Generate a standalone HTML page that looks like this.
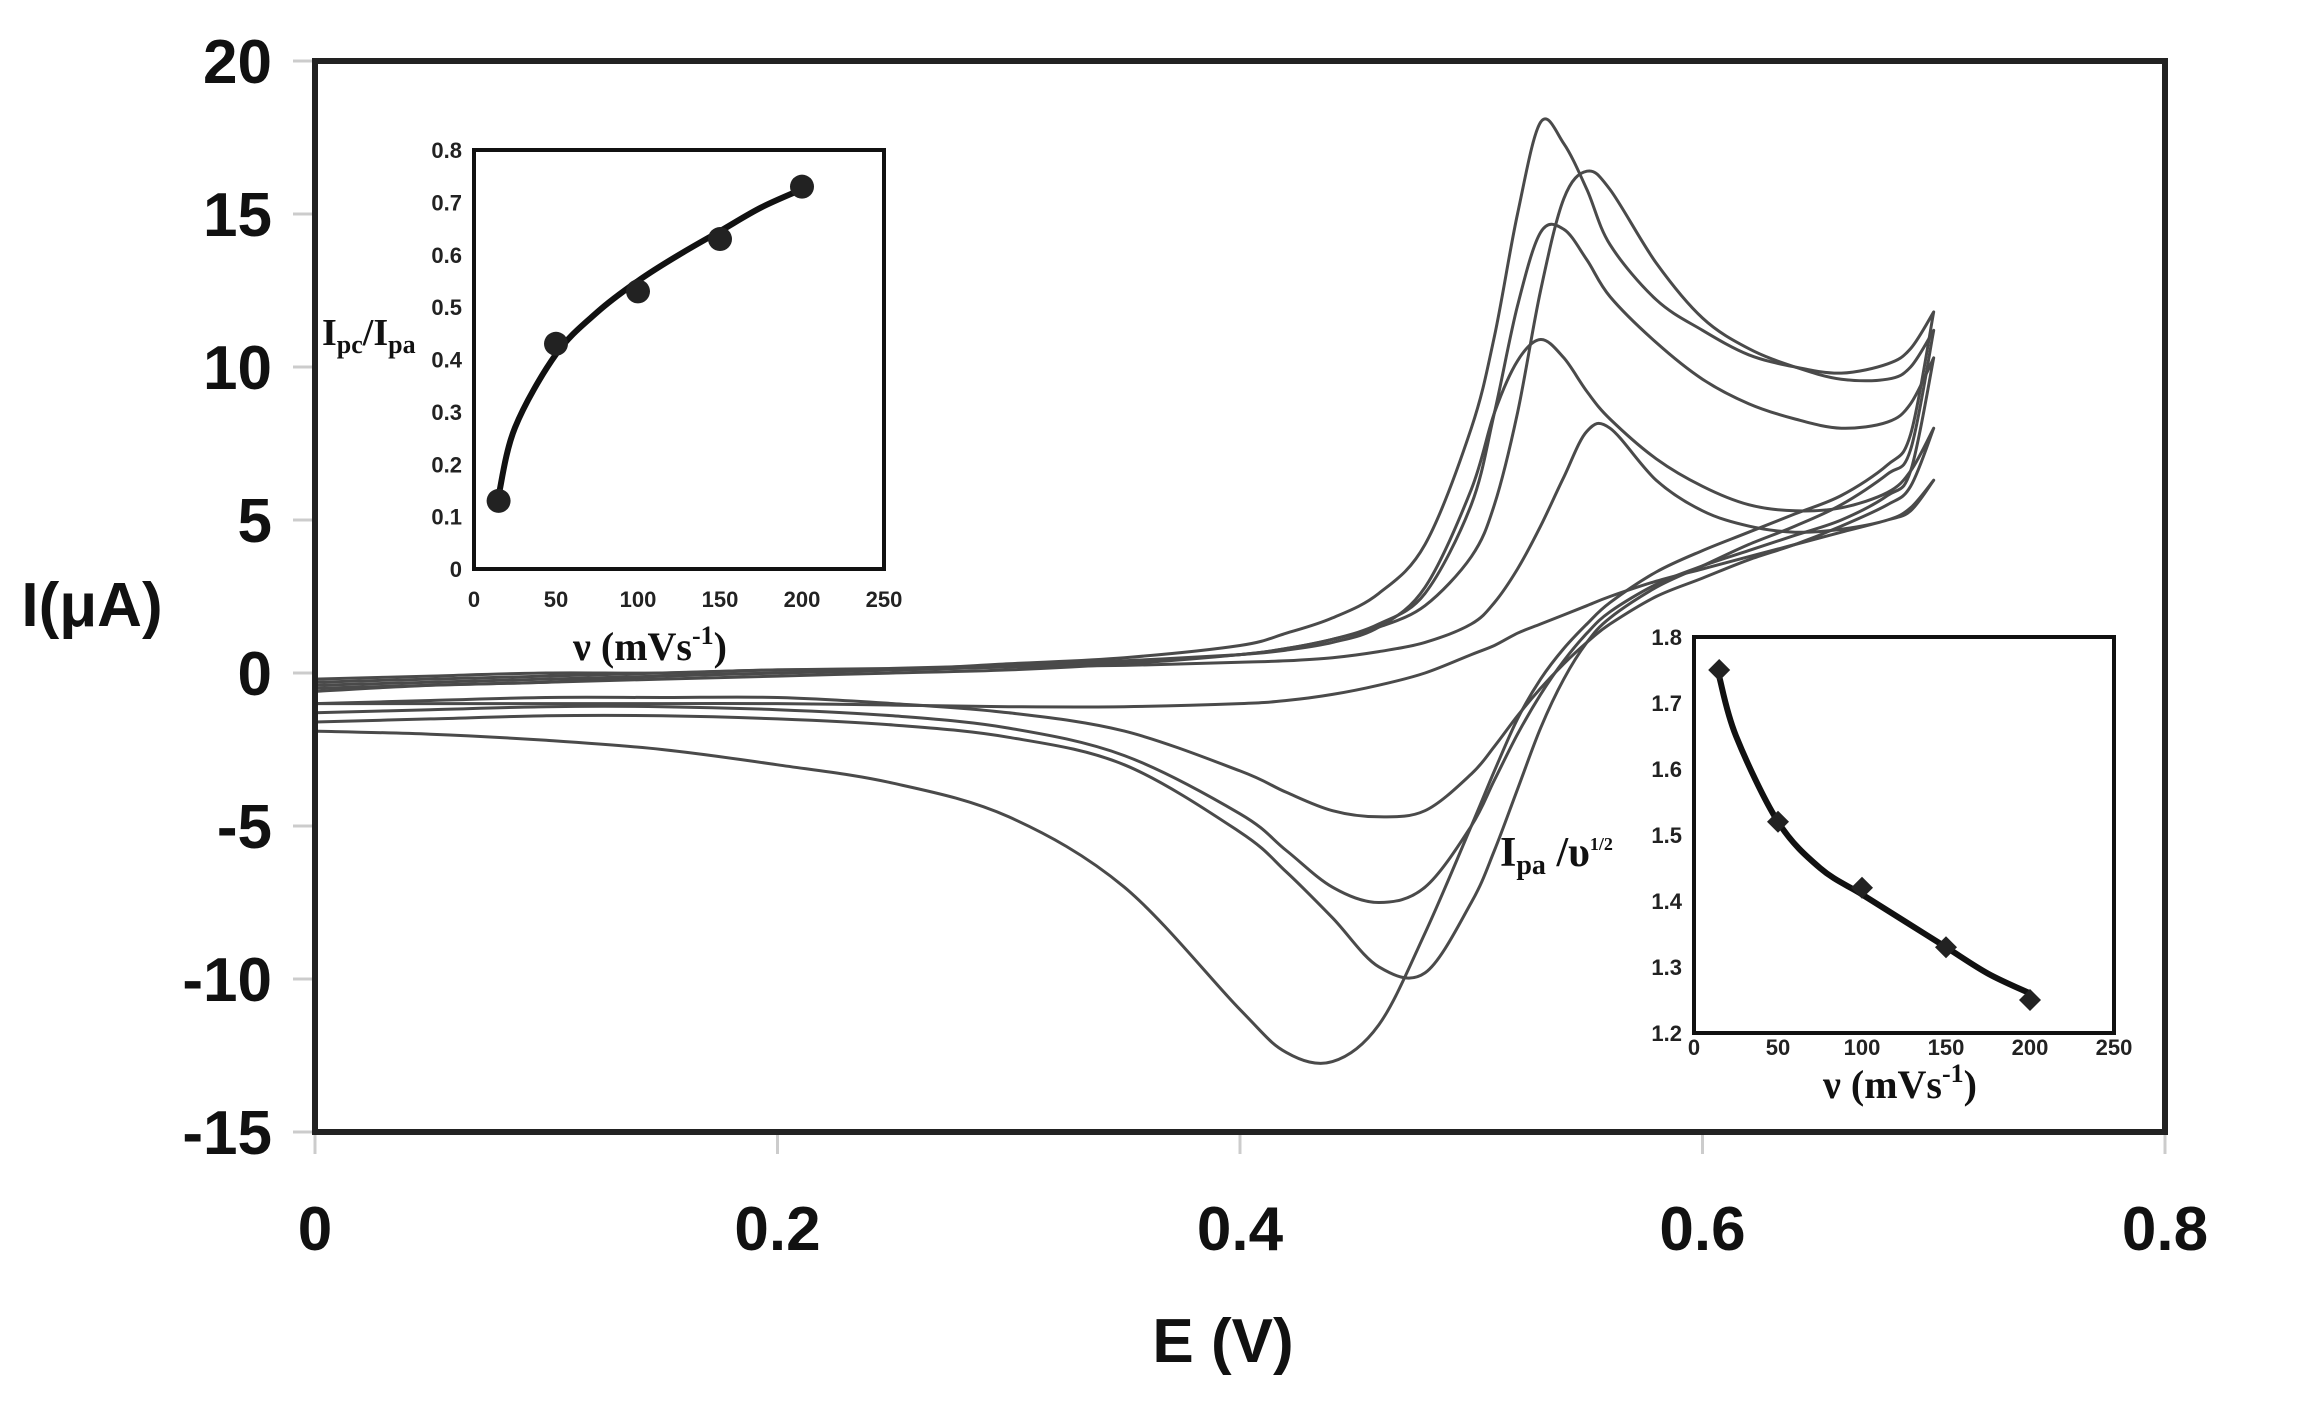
<!DOCTYPE html>
<html><head><meta charset="utf-8"><style>
html,body{margin:0;padding:0;background:#fff;}
svg{display:block;}
.tk{font-family:"Liberation Sans",Arial,sans-serif;font-weight:bold;font-size:62px;fill:#111;}
.itk{font-family:"Liberation Sans",Arial,sans-serif;font-weight:bold;font-size:22px;fill:#222;}
.ser{font-family:"Liberation Serif","Times New Roman",serif;font-weight:bold;fill:#111;}
</style></head><body>
<svg id="chart" width="2316" height="1420" viewBox="0 0 2316 1420" xmlns="http://www.w3.org/2000/svg">
<rect x="0" y="0" width="2316" height="1420" fill="#fff"/>
<g id="main"></g>
<g id="inset1"></g>
<g id="inset2"></g>
</svg>
<script>
// ---- main CV data ----
const eGrid = [0,0.05,0.1,0.15,0.2,0.25,0.3,0.35,0.4,0.42,0.44,0.46,0.48,0.5,0.51,0.52,0.53,0.54,0.55,0.56,0.58,0.6,0.62,0.64,0.66,0.68,0.69,0.7];
const fwdA = [-0.6,-0.4,-0.3,-0.1,0,0.1,0.3,0.5,0.9,1.3,1.8,2.6,4.2,8,11,15,18,17.3,15.8,14,12.2,11.2,10.4,10,9.8,10.1,10.6,11.8];
const revA = [-1.9,-2.0,-2.2,-2.5,-3.0,-3.6,-4.7,-7.0,-11.0,-12.4,-12.7,-11.5,-8.5,-5.0,-3.2,-1.5,-0.2,0.8,1.6,2.3,3.3,4.0,4.6,5.2,5.8,6.8,7.8,11.8];
const fwdB = [-0.5,-0.4,-0.3,-0.2,-0.1,0,0.1,0.3,0.6,0.8,1.1,1.5,2.2,3.8,5.5,8.5,12.5,15.5,16.4,15.8,13.4,11.6,10.6,10.0,9.6,9.6,10.0,11.2];
const revB = [-1.6,-1.5,-1.4,-1.4,-1.5,-1.7,-2.1,-3.0,-5.2,-6.5,-8.0,-9.6,-9.8,-7.5,-5.8,-3.8,-1.8,-0.2,1.0,1.8,2.8,3.5,4.2,4.8,5.5,6.5,7.3,11.2];
const fwdC = [-0.4,-0.3,-0.2,-0.1,0,0.1,0.2,0.35,0.6,0.8,1.1,1.6,2.6,5.5,8.5,12,14.4,14.5,13.5,12.3,10.8,9.6,8.8,8.3,8.0,8.2,8.8,10.3];
const revC = [-1.3,-1.2,-1.1,-1.1,-1.2,-1.4,-1.8,-2.7,-4.6,-5.8,-7.0,-7.5,-7.0,-5.0,-3.5,-2.0,-0.7,0.4,1.3,2.0,2.9,3.5,4.0,4.5,5.0,5.8,6.6,10.3];
const fwdD = [-0.3,-0.2,-0.1,0,0.1,0.15,0.25,0.4,0.6,0.75,1.0,1.5,2.8,6,8.5,10.2,10.9,10.3,9.2,8.3,7.0,6.1,5.5,5.3,5.4,5.9,6.6,8.0];
const revD = [-1.0,-0.9,-0.8,-0.8,-0.8,-1.0,-1.3,-1.9,-3.2,-3.9,-4.5,-4.7,-4.5,-3.3,-2.4,-1.4,-0.5,0.3,1.0,1.6,2.5,3.1,3.7,4.2,4.8,5.5,6.1,8.0];
const fwdE = [-0.2,-0.1,0,0,0.1,0.1,0.2,0.25,0.35,0.4,0.5,0.7,1.0,1.6,2.3,3.4,4.8,6.4,7.9,8.0,6.3,5.3,4.8,4.6,4.7,5.0,5.4,6.3];
const revE = [-1.0,-1.0,-1.0,-1.0,-1.0,-1.05,-1.1,-1.1,-1.0,-0.9,-0.7,-0.4,0,0.6,0.9,1.3,1.6,1.9,2.2,2.5,3.0,3.4,3.8,4.2,4.6,5.0,5.3,6.3];
const xTicks = ["0","0.2","0.4","0.6","0.8"];
const xTickVals = [0,0.2,0.4,0.6,0.8];
const yTickVals = [20,15,10,5,0,-5,-10,-15];
// ---- inset 1 data ----
const rateVals = [15,50,100,150,200];
const ratioVals = [0.13,0.43,0.53,0.63,0.73];
const fitRates = [15,25,50,75,100,125,150,175,200];
const ratioFit = [0.14,0.27,0.41,0.49,0.55,0.60,0.645,0.69,0.725];
const in1YTicks = [0,0.1,0.2,0.3,0.4,0.5,0.6,0.7,0.8];
const inXTicks = [0,50,100,150,200,250];
// ---- inset 2 data ----
const normVals = [1.75,1.52,1.42,1.33,1.25];
const normFit = [1.74,1.65,1.52,1.45,1.41,1.37,1.33,1.29,1.26];
const in2YTicks = [1.2,1.3,1.4,1.5,1.6,1.7,1.8];

const NS="http://www.w3.org/2000/svg";
function mk(parent,tag,attrs,text){const e=document.createElementNS(NS,tag);for(const k in attrs)e.setAttribute(k,attrs[k]);if(text!==undefined)e.textContent=text;parent.appendChild(e);return e;}
function smooth(pts){let d="M"+pts[0][0].toFixed(1)+","+pts[0][1].toFixed(1);for(let i=0;i<pts.length-1;i++){const p0=pts[Math.max(0,i-1)],p1=pts[i],p2=pts[i+1],p3=pts[Math.min(pts.length-1,i+2)];const c1x=p1[0]+(p2[0]-p0[0])/6,c1y=p1[1]+(p2[1]-p0[1])/6,c2x=p2[0]-(p3[0]-p1[0])/6,c2y=p2[1]-(p3[1]-p1[1])/6;d+="C"+c1x.toFixed(1)+","+c1y.toFixed(1)+" "+c2x.toFixed(1)+","+c2y.toFixed(1)+" "+p2[0].toFixed(1)+","+p2[1].toFixed(1);}return d;}

// main axes
const L=315,R=2165,T=61,B=1132;
const xs=v=>L+(v-0)/0.8*(R-L);
const ys=v=>T+(20-v)/35*(B-T);
const main=document.getElementById('main');
yTickVals.forEach(v=>{
  const t=mk(main,'line',{x1:L-22,x2:L,y1:ys(v),y2:ys(v),stroke:'#ccc','stroke-width':3});
  
  
  const lb=mk(main,'text',{x:272,y:ys(v)+22,'text-anchor':'end',class:'tk'},String(v));
  
  
});
xTickVals.forEach((v,i)=>{
  const t=mk(main,'line',{x1:xs(v),x2:xs(v),y1:B,y2:B+22,stroke:'#ccc','stroke-width':3});
  
  
  const lb=mk(main,'text',{x:xs(v),y:1250,'text-anchor':'middle',class:'tk'},xTicks[i]);
  
  
});
const series=[[fwdA,revA],[fwdB,revB],[fwdC,revC],[fwdD,revD],[fwdE,revE]];
const names=['cv-curve-200','cv-curve-150','cv-curve-100','cv-curve-50','cv-curve-15'];
series.forEach((s,k)=>{
  const pts=eGrid.map((e,i)=>[xs(e),ys(s[0][i])]);
  const rpts=[];for(let i=eGrid.length-1;i>=0;i--)rpts.push([xs(eGrid[i]),ys(s[1][i])]);
  const p=mk(main,'path',{d:smooth(pts)+" "+smooth(rpts).replace(/^M/,'L'),fill:'none',stroke:'#4a4a4a','stroke-width':3,'stroke-linejoin':'round'});
  
  
});
const frame=mk(main,'rect',{x:L,y:T,width:R-L,height:B-T,fill:'none',stroke:'#222','stroke-width':6});


const xt=mk(main,'text',{x:1223,y:1362,'text-anchor':'middle',class:'tk'},'E (V)');


const yt=mk(main,'text',{x:92,y:626,'text-anchor':'middle',class:'tk'},'I(μA)');



// inset builder
function inset(g,box,ymin,ymax,yticks,ydec,vals,fit,marker,xoff){
  const ix=v=>box.l+v/250*(box.r-box.l);
  const iy=v=>box.b-(v-ymin)/(ymax-ymin)*(box.b-box.t);
  const bg=mk(g,'rect',{x:box.l,y:box.t,width:box.r-box.l,height:box.b-box.t,fill:'#fff',stroke:'#111','stroke-width':4});
  
  
  yticks.forEach(v=>{
    const lb=mk(g,'text',{x:box.l-12,y:iy(v)+8,'text-anchor':'end',class:'itk'},(ydec&&v!==0)?v.toFixed(1):String(v));
    
    
  });
  inXTicks.forEach(v=>{
    const lb=mk(g,'text',{x:ix(v),y:box.b+xoff,'text-anchor':'middle',class:'itk'},String(v));
    
    
  });
  const fp=mk(g,'path',{d:smooth(fitRates.map((r,i)=>[ix(r),iy(fit[i])])),fill:'none',stroke:'#111','stroke-width':6});
  
  
  rateVals.forEach((r,i)=>{
    const cx=ix(r),cy=iy(vals[i]);
    let m;
    if(marker==='circle') m=mk(g,'circle',{cx:cx,cy:cy,r:12,fill:'#222'});
    else m=mk(g,'polygon',{points:`${cx},${cy-11} ${cx+11},${cy} ${cx},${cy+11} ${cx-11},${cy}`,fill:'#222'});
    
    
  });
}
const g1=document.getElementById('inset1');
inset(g1,{l:474,t:150,r:884,b:569},0,0.8,in1YTicks,true,ratioVals,ratioFit,'circle',38);
const l1=mk(g1,'text',{x:322,y:345,class:'ser','font-size':38});


l1.innerHTML='I<tspan font-size="26" dy="8">pc</tspan><tspan dy="-8">/I</tspan><tspan font-size="26" dy="8">pa</tspan>';
const x1=mk(g1,'text',{x:650,y:660,'text-anchor':'middle',class:'ser','font-size':40});


x1.innerHTML='ν (mVs<tspan font-size="26" dy="-16">-1</tspan><tspan dy="16">)</tspan>';

const g2=document.getElementById('inset2');
inset(g2,{l:1694,t:637,r:2114,b:1033},1.2,1.8,in2YTicks,true,normVals,normFit,'diamond',22);
const l2=mk(g2,'text',{x:1500,y:866,class:'ser','font-size':42});


l2.innerHTML='I<tspan font-size="28" dy="8">pa</tspan><tspan dy="-8"> /υ</tspan><tspan font-size="18" dy="-16">1/2</tspan>';
const x2=mk(g2,'text',{x:1900,y:1098,'text-anchor':'middle',class:'ser','font-size':40});


x2.innerHTML='ν (mVs<tspan font-size="26" dy="-16">-1</tspan><tspan dy="16">)</tspan>';
</script>
</body></html>
